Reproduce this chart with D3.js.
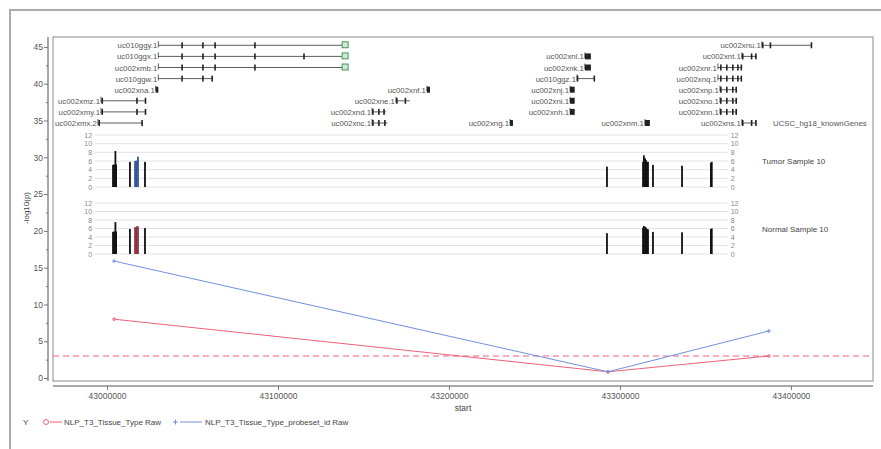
<!DOCTYPE html>
<html>
<head>
<meta charset="utf-8">
<script src="https://cdn.jsdelivr.net/npm/d3@7"></script>
<style>
  body { margin: 0; background: #fff; }
  text { font-family: "Liberation Sans", Arial, sans-serif; fill: #444; }
</style>
</head>
<body>
<svg id="chart" width="881" height="449"></svg>
<script>
// association results (-log10 p) along the chromosome
const lineStarts = [43004100, 43293000, 43387100];
const tissueTypeRaw = [8.0, 0.85, 3.0];
const probesetRaw = [15.9, 0.85, 6.4];
const threshold = 3;

const yTicks = [0, 5, 10, 15, 20, 25, 30, 35, 40, 45];
const xTicks = [43000000, 43100000, 43200000, 43300000, 43400000];
const trackTicks = [0, 2, 4, 6, 8, 10, 12];

// probe intensities in the two sample tracks
const probePos = [43003500, 43004100, 43004900, 43005300, 43013400, 43016400, 43017300, 43018100, 43022200,
    43292400, 43313500, 43314000, 43314700, 43315200, 43315800, 43316400, 43319300, 43336300, 43353200, 43353700];
const probeGroup = ["a", "a", "a", "a", "a", "b", "b", "b", "a",
    "a", "a", "a", "a", "a", "a", "a", "a", "a", "a", "a"];
const tumorValues = [5.1, 5.2, 8.3, 5.2, 5.8, 6.0, 6.1, 7.0, 5.8,
    4.7, 5.8, 7.3, 6.6, 6.2, 5.8, 5.8, 5.1, 4.9, 5.6, 5.8];
const normalValues = [5.2, 5.3, 7.5, 5.3, 5.9, 6.3, 6.5, 6.5, 6.1,
    4.9, 6.2, 6.6, 6.4, 6.2, 5.9, 5.8, 5.2, 5.1, 5.9, 6.0];

// UCSC known genes
const geneNames = ["uc010ggy.1", "uc010ggx.1", "uc002xmb.1", "uc010ggw.1", "uc002xna.1", "uc002xmz.1", "uc002xmy.1", "uc002xmx.2",
    "uc002xnf.1", "uc002xne.1", "uc002xnd.1", "uc002xnc.1", "uc002xng.1",
    "uc002xnl.1", "uc002xnk.1", "uc010ggz.1", "uc002xnj.1", "uc002xni.1", "uc002xnh.1", "uc002xnm.1",
    "uc002xnu.1", "uc002xnt.1", "uc002xnr.1", "uc002xnq.1", "uc002xnp.1", "uc002xno.1", "uc002xnn.1", "uc002xns.1"];
const geneRows = [7, 6, 5, 4, 3, 2, 1, 0,
    3, 2, 1, 0, 0,
    6, 5, 4, 3, 2, 1, 0,
    7, 6, 5, 4, 3, 2, 1, 0];
const geneStarts = [43030000, 43030000, 43030000, 43030000, 43028500, 42996500, 42996500, 42994700,
    43187100, 43169000, 43155000, 43155000, 43235700,
    43279500, 43279500, 43274900, 43270800, 43270800, 43270800, 43314600,
    43383000, 43371300, 43357300, 43357300, 43358500, 43358500, 43358500, 43371300];
const geneEnds = [43137500, 43137500, 43137500, 43062000, 43030000, 43022800, 43022800, 43021000,
    43188900, 43177200, 43163200, 43164000, 43237400,
    43283000, 43283000, 43285400, 43273500, 43273500, 43273500, 43317500,
    43412300, 43380100, 43371300, 43371300, 43368400, 43368400, 43368400, 43380100];
const geneExons = [
    [43043900, 43056100, 43063200, 43086500], [43043900, 43056100, 43063200, 43086500, 43115200], [43043900, 43056100, 43063200, 43086500],
    [43043900, 43056100, 43061500], [], [42997200, 43017500, 43022500], [42997200, 43017500, 43022500], [42995400, 43020500],
    [], [43169500, 43174500], [43155500, 43159000, 43162000], [43155500, 43159000, 43162500], [],
    [], [], [43275200, 43285000], [], [], [], [],
    [43383500, 43388000, 43412000], [43371800, 43377000, 43379500], [43359000, 43362500, 43366000, 43369000, 43371000],
    [43359000, 43362500, 43366000, 43369000, 43371000], [43359000, 43362500, 43366000, 43368000],
    [43359000, 43362500, 43366000, 43368000], [43359000, 43362500, 43366000, 43368000], [43371800, 43377000, 43379500]];
const utrGenes = ["uc010ggy.1", "uc010ggx.1", "uc002xmb.1"];

const legendLabels = ["NLP_T3_Tissue_Type Raw", "NLP_T3_Tissue_Type_probeset_id Raw"];

const red = "#f0607a";
const blue = "#7090dc";

const svg = d3.select("#chart");

const xScale = d3.scaleLinear().domain([42968400, 43448000]).range([53, 873]);
const yScale = d3.scaleLinear().domain([-0.4, 46.35]).range([381, 37]);
const rowScale = d3.scaleLinear().domain([0, 7]).range([123, 45.3]);
const tumorY = d3.scaleLinear().domain([0, 12]).range([187, 135]);
const normalY = d3.scaleLinear().domain([0, 12]).range([254, 203]);

// outer frame
svg.append("path")
    .attr("d", "M10,449V10H881")
    .attr("fill", "none")
    .attr("stroke", "#ababab")
    .attr("stroke-width", 2);

// plot frame
svg.append("rect")
    .attr("x", 53).attr("y", 37)
    .attr("width", 820).attr("height", 344)
    .attr("fill", "none")
    .attr("stroke", "#8a8a8a");

// y axis
const yAxis = svg.append("g")
    .attr("transform", "translate(48,0)")
    .call(d3.axisLeft(yScale).tickValues(yTicks).tickSize(4).tickPadding(1));
svg.append("g")
    .attr("transform", "translate(48,0)")
    .call(d3.axisLeft(yScale).tickValues(yTicks.map(d => d + 2.5).filter(d => d < 46)).tickSize(2).tickFormat(""))
    .call(g => g.select(".domain").remove());
yAxis.select(".domain").attr("d", "M0,37V381").attr("stroke", "#8a8a8a").attr("stroke-width", 1.5);
svg.selectAll("g .tick line").attr("stroke", "#777");
yAxis.selectAll("text").attr("font-size", 8.5).style("fill", "#555");

svg.append("text")
    .attr("transform", "translate(29,208) rotate(-90)")
    .attr("text-anchor", "middle")
    .attr("font-size", 8)
    .text("-log10(p)");

// x axis
const xAxis = svg.append("g")
    .attr("transform", "translate(0,386)")
    .call(d3.axisBottom(xScale).tickValues(xTicks).tickSize(4).tickPadding(3).tickFormat(d3.format("d")));
xAxis.select(".domain").attr("d", "M53,0H873").attr("stroke", "#8a8a8a").attr("stroke-width", 1.5);
xAxis.selectAll("line").attr("stroke", "#777");
xAxis.selectAll("text").attr("font-size", 8.5).style("fill", "#555");

svg.append("text")
    .attr("x", 463).attr("y", 411)
    .attr("text-anchor", "middle")
    .attr("font-size", 8.5)
    .text("start");

// gene track
const genes = geneNames.map((name, i) => ({
    name, row: geneRows[i], start: geneStarts[i], end: geneEnds[i], exons: geneExons[i]
}));

const gene = svg.append("g").selectAll("g")
    .data(genes)
    .enter()
    .append("g")
    .attr("transform", d => `translate(0,${rowScale(d.row)})`);

gene.append("line")
    .attr("x1", d => xScale(d.start))
    .attr("x2", d => xScale(d.end))
    .attr("stroke", "#333")
    .attr("stroke-width", 0.8);

gene.append("line")
    .attr("x1", d => xScale(d.start))
    .attr("x2", d => xScale(d.start))
    .attr("y1", -4).attr("y2", 2)
    .attr("stroke", "#333")
    .attr("stroke-width", 0.8);

gene.append("rect")
    .attr("x", d => xScale(d.start))
    .attr("y", -3)
    .attr("width", d => Math.max(0, xScale(d.end) - xScale(d.start)))
    .attr("height", 6)
    .attr("fill", "#222")
    .attr("display", d => d.exons.length ? "none" : null);

gene.selectAll(".exon")
    .data(d => d.exons)
    .enter()
    .append("rect")
    .attr("class", "exon")
    .attr("x", d => xScale(d) - 0.8)
    .attr("y", -3)
    .attr("width", 1.6)
    .attr("height", 6)
    .attr("fill", "#222");

gene.filter(d => utrGenes.includes(d.name))
    .append("rect")
    .attr("x", d => xScale(d.end))
    .attr("y", -3.5)
    .attr("width", 6)
    .attr("height", 6)
    .attr("fill", "#c8ecd4")
    .attr("stroke", "#2b7a45")
    .attr("stroke-width", 0.8);

gene.append("text")
    .attr("x", d => xScale(d.start) - 1)
    .attr("y", 3)
    .attr("text-anchor", "end")
    .attr("font-size", 7.8)
    .style("fill", "#555")
    .text(d => d.name);

svg.append("text")
    .attr("x", 773).attr("y", rowScale(0) + 3)
    .attr("font-size", 7.8)
    .style("fill", "#555")
    .text("UCSC_hg18_knownGenes");

// sample tracks
const tracks = [
    { label: "Tumor Sample 10", y: tumorY, values: tumorValues, hl: "#34559a" },
    { label: "Normal Sample 10", y: normalY, values: normalValues, hl: "#8a3444" }
];

tracks.forEach(t => {
    const g = svg.append("g");
    g.selectAll(".grid")
        .data(trackTicks)
        .enter()
        .append("line")
        .attr("x1", xScale(42993000))
        .attr("x2", xScale(43363000))
        .attr("y1", d => t.y(d))
        .attr("y2", d => t.y(d))
        .attr("stroke", "#e2e2e2");

    g.append("g")
        .attr("transform", `translate(${xScale(42993000) - 3},0)`)
        .call(d3.axisLeft(t.y).tickValues(trackTicks).tickSize(0).tickPadding(0))
        .call(a => a.select(".domain").remove())
        .selectAll("text").attr("font-size", 7).style("fill", "#888");

    g.append("g")
        .attr("transform", `translate(${xScale(43363000) + 3},0)`)
        .call(d3.axisRight(t.y).tickValues(trackTicks).tickSize(0).tickPadding(0))
        .call(a => a.select(".domain").remove())
        .selectAll("text").attr("font-size", 7).style("fill", "#888");

    g.selectAll(".bar")
        .data(probePos.map((p, i) => ({ p, v: t.values[i], grp: probeGroup[i] })))
        .enter()
        .append("rect")
        .attr("x", d => xScale(d.p) - 0.9)
        .attr("y", d => t.y(d.v))
        .attr("width", 1.8)
        .attr("height", d => t.y(0) - t.y(d.v))
        .attr("fill", d => d.grp === "b" ? t.hl : "#111");

    g.append("text")
        .attr("x", 762)
        .attr("y", t.y(6) + 3)
        .attr("font-size", 8)
        .text(t.label);
});

// threshold line
svg.append("line")
    .attr("x1", xScale.range()[0])
    .attr("x2", xScale.range()[1])
    .attr("y1", yScale(threshold))
    .attr("y2", yScale(threshold))
    .attr("stroke", red)
    .attr("stroke-width", 1.2)
    .attr("stroke-dasharray", "6,4");

const line = d3.line()
    .x(d => xScale(d.x))
    .y(d => yScale(d.y));

const redData = lineStarts.map((x, i) => ({ x, y: tissueTypeRaw[i] }));
const blueData = lineStarts.map((x, i) => ({ x, y: probesetRaw[i] }));

svg.append("path")
    .datum(redData)
    .attr("fill", "none")
    .attr("stroke", red)
    .attr("stroke-width", 1)
    .attr("d", line);

svg.append("path")
    .datum(blueData)
    .attr("fill", "none")
    .attr("stroke", blue)
    .attr("stroke-width", 1)
    .attr("d", line);

svg.selectAll(".rmark")
    .data(redData)
    .enter()
    .append("circle")
    .attr("cx", d => xScale(d.x))
    .attr("cy", d => yScale(d.y))
    .attr("r", 1.3)
    .attr("fill", "none")
    .attr("stroke", red);

svg.selectAll(".bmark")
    .data(blueData)
    .enter()
    .append("path")
    .attr("d", d => `M${xScale(d.x) - 2},${yScale(d.y)}h4M${xScale(d.x)},${yScale(d.y) - 2}v4`)
    .attr("stroke", blue);

// legend
const legend = svg.append("g").attr("transform", "translate(0,422)");
legend.append("text").attr("x", 23).attr("y", 3).attr("font-size", 8).text("Y");
legend.append("circle").attr("cx", 46).attr("cy", 0).attr("r", 2.5).attr("fill", "none").attr("stroke", red);
legend.append("line").attr("x1", 50).attr("x2", 62).attr("stroke", red);
legend.append("text").attr("x", 64).attr("y", 3).attr("font-size", 8).text(legendLabels[0]);
legend.append("path").attr("d", "M173,0h5M175.5,-2.5v5").attr("stroke", blue);
legend.append("line").attr("x1", 180).attr("x2", 202).attr("stroke", blue);
legend.append("text").attr("x", 205).attr("y", 3).attr("font-size", 8).text(legendLabels[1]);
</script>
</body>
</html>
